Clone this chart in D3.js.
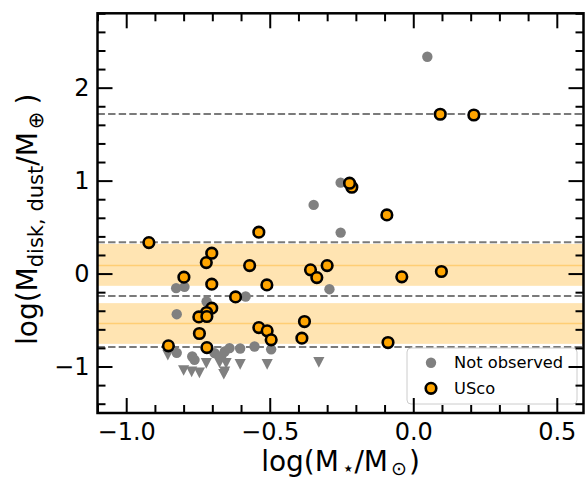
<!DOCTYPE html>
<html><head><meta charset="utf-8">
<script src="https://cdn.jsdelivr.net/npm/d3@7"></script>
<style>
body{margin:0;background:#fff}
svg{display:block}
text{font-family:"DejaVu Sans",sans-serif}
</style>
</head><body>
<svg id="c" width="587" height="481"></svg>
<script>
// ---- data ----
const uscoX = [-0.921,-0.799,-0.721,-0.702,-0.702,-0.538,-0.570,-0.510,-0.619,-0.702,-0.720,-0.747,-0.719,-0.745,-0.853,-0.719,-0.538,-0.509,-0.495,-0.388,-0.379,-0.358,-0.336,-0.300,-0.214,-0.222,-0.092,-0.088,-0.040,0.098,0.094,0.211];
const uscoY = [0.333,-0.039,0.118,0.219,-0.114,0.445,0.086,-0.122,-0.251,-0.372,-0.419,-0.466,-0.462,-0.645,-0.777,-0.796,-0.581,-0.616,-0.713,-0.695,-0.516,0.040,-0.043,0.086,0.929,0.972,0.631,-0.742,-0.035,0.022,1.714,1.706];
const notObsX = [0.049,-0.253,-0.347,-0.253,-0.292,-0.584,-0.826,-0.797,-0.720,-0.824,-0.824,-0.770,-0.762,-0.692,-0.669,-0.657,-0.640,-0.603,-0.553,-0.495];
const notObsY = [2.333,0.978,0.739,0.441,-0.168,-0.247,-0.157,-0.143,-0.301,-0.437,-0.853,-0.892,-0.928,-0.856,-0.892,-0.839,-0.802,-0.806,-0.785,-0.815];
const limX = [-0.855,-0.800,-0.772,-0.745,-0.721,-0.675,-0.657,-0.652,-0.603,-0.509,-0.329,-0.660];
const limY = [-0.874,-1.040,-1.054,-1.065,-0.963,-0.957,-1.054,-0.963,-0.974,-0.974,-0.953,-1.080];
const bandLow = [-0.132,-0.756];
const bandHigh = [0.319,-0.318];
const bandMid = [0.087,-0.537];
const dashedY = [1.717,0.338,-0.240,-0.790];
const xTicks = [-1.0,-0.5,0.0,0.5];
const yTicks = [-1,0,1,2];
const legendLabels = ["Not observed","USco"];

// ---- layout ----
const svg = d3.select("#c");
const L=97.5, R=583.5, T=13.3, B=413;
const x = d3.scaleLinear().domain([-1.1,0.593]).range([L,R]);
const y = d3.scaleLinear().domain([-1.5,2.8]).range([B,T]);

const plot = svg.append("g");
plot.selectAll("rect.band").data(bandLow).join("rect").attr("class","band")
  .attr("x",L).attr("width",R-L)
  .attr("y",(d,i)=>y(bandHigh[i])).attr("height",(d,i)=>y(d)-y(bandHigh[i]))
  .attr("fill","orange").attr("fill-opacity",0.3);
plot.selectAll("line.mid").data(bandMid).join("line").attr("class","mid")
  .attr("x1",L).attr("x2",R).attr("y1",d=>y(d)).attr("y2",d=>y(d))
  .attr("stroke","orange").attr("stroke-opacity",0.35).attr("stroke-width",1.5);
plot.selectAll("line.dash").data(dashedY).join("line").attr("class","dash")
  .attr("x1",L).attr("x2",R).attr("y1",d=>y(d)).attr("y2",d=>y(d))
  .attr("stroke","#7a7a7a").attr("stroke-width",2).attr("stroke-dasharray","7.4,3.2");

plot.selectAll("circle.no").data(notObsX).join("circle").attr("class","no")
  .attr("cx",d=>x(d)).attr("cy",(d,i)=>y(notObsY[i])).attr("r",5.2).attr("fill","#808080");
const vTri = {draw(ctx,size){const r=Math.sqrt(size)/2;ctx.moveTo(-r,-r*0.9);ctx.lineTo(r,-r*0.9);ctx.lineTo(0,r);ctx.closePath();}};
plot.selectAll("path.lim").data(limX).join("path").attr("class","lim")
  .attr("d",d3.symbol(vTri,125)())
  .attr("transform",(d,i)=>`translate(${x(d)},${y(limY[i])})`).attr("fill","#808080");
plot.selectAll("circle.us").data(uscoX).join("circle").attr("class","us")
  .attr("cx",d=>x(d)).attr("cy",(d,i)=>y(uscoY[i])).attr("r",5.3)
  .attr("fill","orange").attr("stroke","#000").attr("stroke-width",2.6);

// legend
const lg = svg.append("g");
lg.append("rect").attr("x",407).attr("y",348).attr("width",170).attr("height",56).attr("rx",4)
  .attr("fill","#fff").attr("fill-opacity",0.8).attr("stroke","#cccccc").attr("stroke-width",1);
lg.append("circle").attr("cx",431).attr("cy",362.7).attr("r",5.2).attr("fill","#808080");
lg.append("circle").attr("cx",431).attr("cy",388.3).attr("r",5.3).attr("fill","orange").attr("stroke","#000").attr("stroke-width",2.6);
lg.selectAll("text").data(legendLabels).join("text")
  .attr("x",454).attr("y",(d,i)=>[362.7,388.3][i]).attr("dy","0.35em")
  .attr("font-size",16.3).attr("fill","#000").text(d=>d);

// axes
const fmtX = d3.format(".1f"), fmtY = d3.format("d");
const minorX = d3.range(-11,6).map(v=>v/10).filter(v=>!xTicks.some(t=>Math.abs(t-v)<1e-6));
const minorY = d3.range(-7,15).map(v=>v/5).filter(v=>!yTicks.some(t=>Math.abs(t-v)<1e-6));
function styleAxis(g){g.select(".domain").remove();g.selectAll(".tick line").attr("stroke","#000").attr("stroke-width",2);g.selectAll(".tick text").attr("font-size",24).attr("fill","#000").attr("font-family","DejaVu Sans");}
svg.append("g").attr("transform",`translate(0,${B})`).call(d3.axisBottom(x).tickValues(xTicks).tickFormat(fmtX).tickSizeInner(-15).tickPadding(10)).call(styleAxis);
svg.append("g").attr("transform",`translate(0,${B})`).call(d3.axisBottom(x).tickValues(minorX).tickFormat("").tickSizeInner(-8)).call(styleAxis);
svg.append("g").attr("transform",`translate(0,${T})`).call(d3.axisTop(x).tickValues(xTicks).tickFormat("").tickSizeInner(-15)).call(styleAxis);
svg.append("g").attr("transform",`translate(0,${T})`).call(d3.axisTop(x).tickValues(minorX).tickFormat("").tickSizeInner(-8)).call(styleAxis);
svg.append("g").attr("transform",`translate(${L},0)`).call(d3.axisLeft(y).tickValues(yTicks).tickFormat(fmtY).tickSizeInner(-15).tickPadding(8)).call(styleAxis);
svg.append("g").attr("transform",`translate(${L},0)`).call(d3.axisLeft(y).tickValues(minorY).tickFormat("").tickSizeInner(-8)).call(styleAxis);
svg.append("g").attr("transform",`translate(${R},0)`).call(d3.axisRight(y).tickValues(yTicks).tickFormat("").tickSizeInner(-15)).call(styleAxis);
svg.append("g").attr("transform",`translate(${R},0)`).call(d3.axisRight(y).tickValues(minorY).tickFormat("").tickSizeInner(-8)).call(styleAxis);
svg.append("rect").attr("x",L).attr("y",T).attr("width",R-L).attr("height",B-T)
  .attr("fill","none").attr("stroke","#000").attr("stroke-width",2.5);

// axis labels
const xl = svg.append("text").attr("x",(L+R)/2).attr("y",471).attr("text-anchor","middle").attr("font-size",28).attr("fill","#000");
xl.append("tspan").text("log(M");
xl.append("tspan").attr("font-size",20).attr("dx",3).attr("dy",4).text("⋆");
xl.append("tspan").attr("dy",-4).text("/M");
xl.append("tspan").attr("font-size",19).attr("dx",3).attr("dy",4).text("⊙");
xl.append("tspan").attr("dx",2).attr("dy",-4).text(")");

const yl = svg.append("text").attr("transform","translate(37,345) rotate(-90)").attr("text-anchor","start").attr("font-size",28).attr("fill","#000");
yl.append("tspan").text("log(M");
yl.append("tspan").attr("font-size",21).attr("dy",6).text("disk, dust");
yl.append("tspan").attr("dy",-6).text("/M");
yl.append("tspan").attr("font-size",21).attr("dx",3).attr("dy",6).text("⊕");
yl.append("tspan").attr("dx",7).attr("dy",-6).text(")");
</script>
</body></html>
